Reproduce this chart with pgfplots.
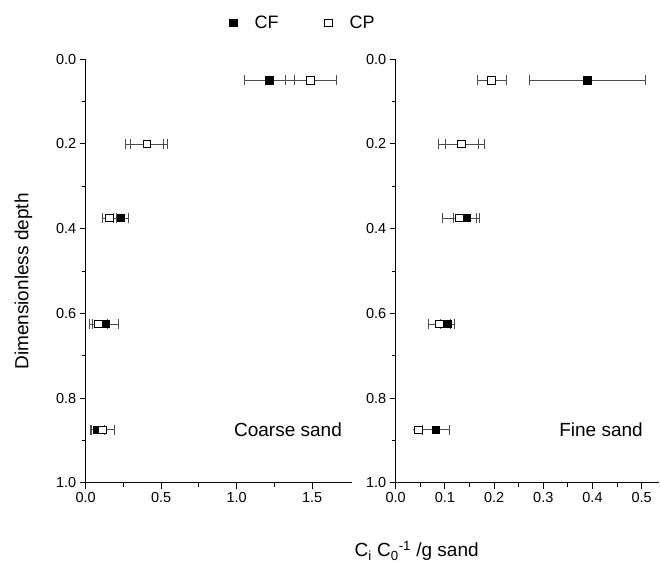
\documentclass[border=0pt]{standalone}
\usepackage{fontspec}
\setmainfont{Liberation Sans}
\usepackage{pgfplots}
\usepackage{pgfplotstable}
\pgfplotsset{compat=1.18}

% depth profiles, x = C_i/C_0 per g sand, ex = half width of the error bar
\pgfplotstableread{
x     y     ex
1.216 0.05  0.168
0.404 0.2   0.11
0.232 0.375 0.05
0.132 0.625 0.085
0.077 0.875 0.045
}\coarseCF
\pgfplotstableread{
x     y     ex
1.490 0.05  0.168
0.404 0.2   0.14
0.157 0.375 0.045
0.084 0.625 0.06
0.112 0.875 0.075
}\coarseCP
\pgfplotstableread{
x     y     ex
0.390 0.05  0.118
0.134 0.2   0.033
0.144 0.375 0.027
0.105 0.625 0.015
0.082 0.875 0.027
}\fineCF
\pgfplotstableread{
x     y     ex
0.195 0.05  0.03
0.134 0.2   0.047
0.129 0.375 0.034
0.089 0.625 0.022
0.046 0.875 0.0
}\fineCP

\pgfplotsset{
  panel/.style={
    scale only axis, height=423.4pt,
    y dir=reverse, ymin=0, ymax=1,
    axis x line=bottom, axis y line=left,
    axis line style={-, line width=1.1pt},
    ytick={0,0.2,0.4,0.6,0.8,1.0},
    minor y tick num=1, minor x tick num=1,
    tick align=outside,
    major tick length=6pt, minor tick length=4pt,
    every tick/.style={black, line width=1pt},
    tick label style={font=\fontsize{14.5}{17}\selectfont},
    /pgf/number format/assume math mode=true,
    /pgf/number format/fixed,
    /pgf/number format/fixed zerofill,
    /pgf/number format/precision=1,
  },
  errx/.style={
    error bars/x dir=both, error bars/x explicit,
    error bars/error mark=|,
    error bars/error bar style={line width=0.7pt, black!70},
    error bars/error mark options={mark size=5pt, line width=0.7pt, black!70}},
  cf/.style={black, only marks, mark=square*, mark size=3.8pt,
    mark options={fill=black, line width=0.8pt}, errx},
  cp/.style={black, only marks, mark=square*, mark size=3.8pt,
    mark options={fill=white, line width=0.8pt}, errx},
}

\begin{document}
\begin{tikzpicture}
\useasboundingbox (0,0) rectangle (661pt,562pt);

\begin{axis}[panel, at={(85.7pt,79.3pt)}, anchor=south west,
  width=266.5pt, xmin=0, xmax=1.765, xtick={0,0.5,1,1.5},
  legend columns=2,
  legend image code/.code={
    \path[draw=none, fill=none] (0pt,0pt) -- (23pt,0pt);
    \path[#1, draw=none] (0pt,0pt);
    \draw[#1] plot[only marks] coordinates {(3.8pt,0pt)};},
  legend style={draw=none, fill=none, inner sep=0pt,
    at={(axis description cs:0.5396,1.0857)}, anchor=west,
    font=\fontsize{18}{20}\selectfont,
    /tikz/every even column/.append style={column sep=44pt}},
]
\addlegendimage{black, only marks, mark=square*, mark size=3.8pt, mark options={fill=black, line width=0.8pt}}
\addlegendentry{CF}
\addlegendimage{black, only marks, mark=square*, mark size=3.8pt, mark options={fill=white, line width=0.8pt}}
\addlegendentry{CP}
\addplot[cf, forget plot] table[x=x, y=y, x error=ex] {\coarseCF};
\addplot[cp, forget plot] table[x=x, y=y, x error=ex] {\coarseCP};
\end{axis}

\begin{axis}[panel, at={(395.7pt,79.3pt)}, anchor=south west,
  width=263.2pt, xmin=0, xmax=0.535, xtick={0,0.1,0.2,0.3,0.4,0.5}]
\addplot[cf, forget plot] table[x=x, y=y, x error=ex] {\fineCF};
\addplot[cp, forget plot] table[x=x, y=y, x error=ex] {\fineCP};
\end{axis}

\node[anchor=base, font=\fontsize{19}{22}\selectfont] at (288pt,125.3pt) {Coarse sand};
\node[anchor=base, font=\fontsize{19}{22}\selectfont] at (601pt,125.3pt) {Fine sand};
\node[anchor=base, rotate=90, font=\fontsize{19}{22}\selectfont] at (28.3pt,280.5pt) {Dimensionless depth};
\node[anchor=base, font=\fontsize{19}{22}\selectfont] at (416.7pt,5.3pt)
  {C\textsubscript{i} C\textsubscript{0}\textsuperscript{-1} /g sand};
\end{tikzpicture}
\end{document}
